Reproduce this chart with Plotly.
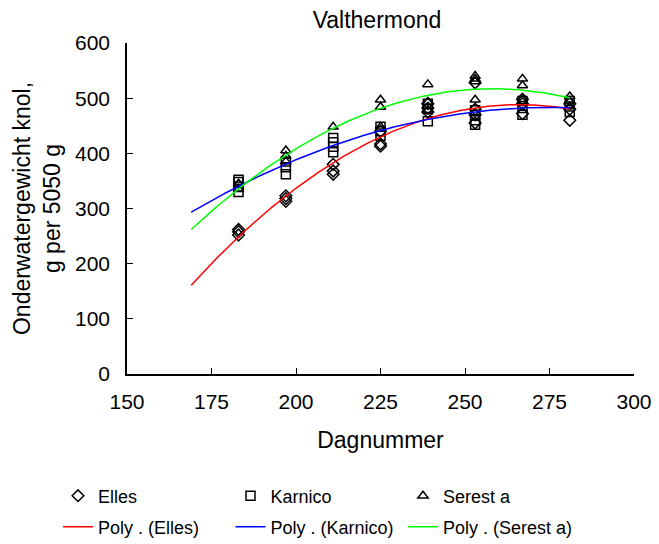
import numpy as np
import plotly.graph_objects as go

# ---- data ----
elles_x = [183, 183, 183, 197, 197, 197, 211, 211, 211, 225, 225, 225,
           239, 239, 239, 253, 253, 253, 253, 267, 267, 267, 281, 281, 281]
elles_y = [252, 258, 262, 313, 318, 323, 362, 368, 380, 413, 417, 440,
           475, 482, 490, 455, 470, 480, 528, 472, 490, 498, 460, 480, 490]

karnico_x = [183, 183, 183, 183, 197, 197, 197, 211, 211, 211, 211, 225, 225, 225,
             239, 239, 239, 253, 253, 253, 253, 267, 267, 267, 281, 281, 281]
karnico_y = [330, 340, 348, 352, 362, 375, 385, 402, 412, 420, 428, 432, 440, 448,
             458, 480, 490, 452, 460, 470, 478, 470, 482, 495, 475, 485, 495]

seresta_x = [183, 183, 197, 197, 197, 211, 225, 225, 225, 239, 239, 239,
             253, 253, 253, 253, 267, 267, 267, 281, 281, 281]
seresta_y = [335, 345, 385, 395, 405, 448, 448, 484, 497, 478, 493, 525,
             497, 530, 535, 540, 498, 523, 535, 485, 495, 503]

marker_names = ["Elles", "Karnico", "Serest a"]
trend_names = ["Poly . (Elles)", "Poly . (Karnico)", "Poly . (Serest a)"]
symbols = ["diamond-open", "square-open", "triangle-up-open"]
line_colors = ["#ff0000", "#0000ff", "#00ff00"]
backcast_days = 14

x_ticks = [150, 175, 200, 225, 250, 275, 300]
y_ticks = [0, 100, 200, 300, 400, 500, 600]

FONT = "Liberation Sans, Arial, sans-serif"

series = [(elles_x, elles_y), (karnico_x, karnico_y), (seresta_x, seresta_y)]

# legend layout: one small legend per entry (3 columns x 2 rows)
col_x = [58, 230.5, 403]
row_y = [496, 527]

fig = go.Figure()
legends = {}
for i, ((xs, ys), nm, sym) in enumerate(zip(series, marker_names, symbols)):
    key = "legend" if i == 0 else f"legend{i + 1}"
    fig.add_trace(go.Scatter(
        x=xs, y=ys, mode="markers", name=nm, legend=key,
        marker=dict(symbol=sym, size=9, color="black", line=dict(width=1.5, color="black")),
    ))
    legends[key] = (col_x[i], row_y[0])

for i, ((xs, ys), nm, col) in enumerate(zip(series, trend_names, line_colors)):
    key = f"legend{i + 4}"
    coef = np.polyfit(xs, ys, 2)
    xf = np.linspace(min(xs) - backcast_days, max(xs), 200)
    yf = np.polyval(coef, xf)
    fig.add_trace(go.Scatter(
        x=xf, y=yf, mode="lines", name=nm, legend=key,
        line=dict(color=col, width=1.5),
    ))
    legends[key] = (col_x[i], row_y[1])

leg_layout = {}
for key, (lx, ly) in legends.items():
    leg_layout[key] = dict(orientation="h", xref="container", yref="container",
                           x=lx / 659, xanchor="left", y=1 - ly / 544, yanchor="middle",
                           font=dict(family=FONT, size=18, color="black"),
                           bgcolor="rgba(0,0,0,0)", itemwidth=30)

fig.update_layout(
    width=659, height=544,
    margin=dict(l=127, r=25, t=43, b=170, autoexpand=False),
    paper_bgcolor="white", plot_bgcolor="white",
    font=dict(family=FONT, size=20, color="black"),
    title=dict(text="Valthermond", x=377 / 659, xanchor="center", xref="container",
               y=1 - 20 / 544, yanchor="middle", yref="container", font=dict(size=23)),
    showlegend=True,
    **leg_layout,
)

fig.update_xaxes(range=[150, 300], tickvals=x_ticks, showline=True, linecolor="black",
                 linewidth=1.5, ticks="inside", ticklen=6, tickcolor="black", tickwidth=1,
                 showgrid=False, zeroline=False, automargin=False,
                 tickfont=dict(size=21), ticklabelstandoff=8,
                 title=dict(text="Dagnummer", font=dict(size=23), standoff=20))
fig.update_yaxes(range=[0, 600], tickvals=y_ticks, showline=True, linecolor="black",
                 linewidth=1.5, ticks="inside", ticklen=6, tickcolor="black", tickwidth=1,
                 showgrid=False, zeroline=False, automargin=False,
                 tickfont=dict(size=21), ticklabelstandoff=11,
                 title=dict(text="Onderwatergewicht knol,<br>g per 5050 g",
                            font=dict(size=23), standoff=8))

fig.write_html("out.html", config={"displayModeBar": False},
               post_script="document.body.style.margin='0';")
